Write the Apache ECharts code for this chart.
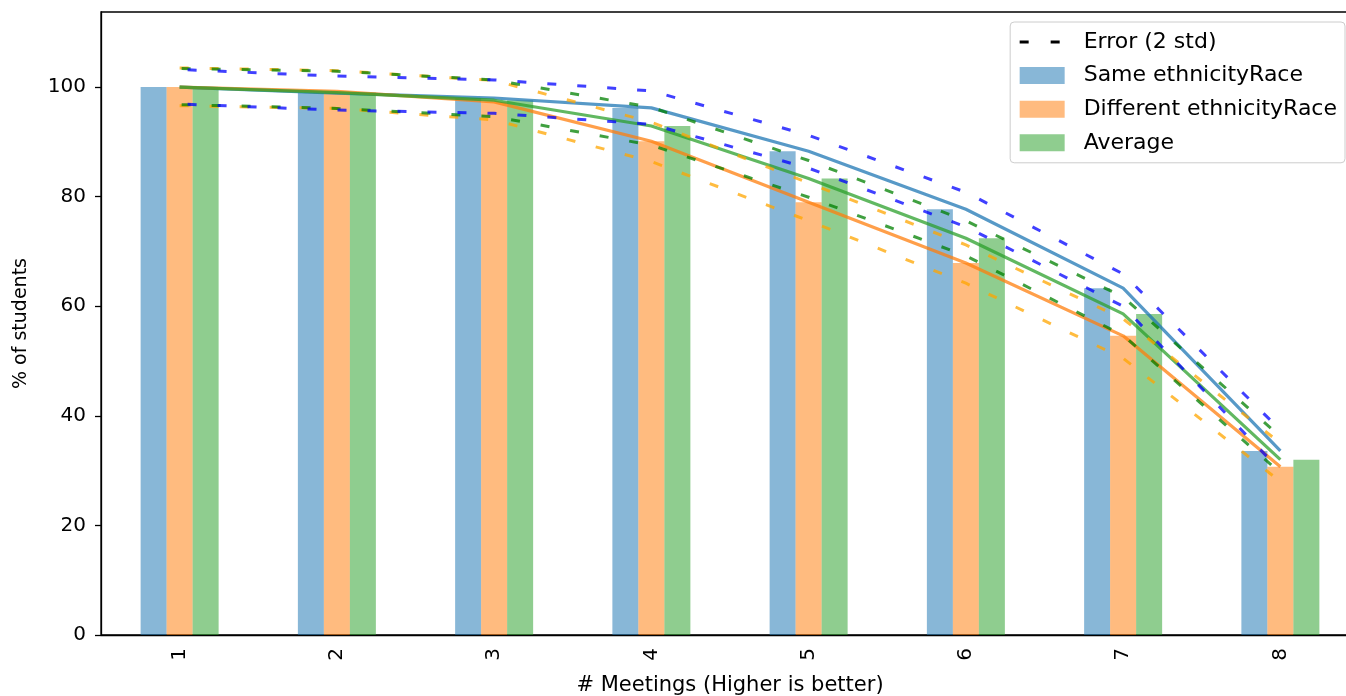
<!DOCTYPE html>
<html>
<head>
<meta charset="utf-8">
<script src="https://cdn.jsdelivr.net/npm/echarts@6/dist/echarts.min.js"></script>
<style>
html,body{margin:0;padding:0;background:#fff;}
#main{width:1346px;height:696px;}
</style>
</head>
<body>
<div id="main"></div>
<script>
// categories
var meetings = ['1','2','3','4','5','6','7','8'];
// % of students still attending
var sameVals = [100, 98.9, 98.0, 96.2, 88.3, 77.7, 63.3, 33.6];
var diffVals = [100, 99.2, 97.3, 90.1, 79.0, 67.9, 54.6, 30.7];
var avgVals  = [100, 99.0, 97.6, 92.9, 83.3, 72.4, 58.6, 32.0];
// error bands (2 std)
var sameHi = [103.2, 102.0, 101.3, 99.3, 91.2, 80.8, 65.9, 37.4];
var sameLo = [96.9, 95.8, 95.2, 93.2, 85.2, 74.5, 60.0, 30.0];
var diffHi = [103.5, 103.0, 101.2, 93.6, 82.5, 71.2, 57.7, 35.0];
var diffLo = [96.6, 96.1, 94.0, 86.4, 75.6, 64.2, 50.5, 28.0];
var avgHi  = [103.4, 102.9, 101.3, 96.3, 86.6, 75.6, 61.7, 36.2];
var avgLo  = [96.8, 96.1, 94.6, 89.4, 79.9, 69.2, 54.7, 29.6];
var yTicks = [0, 20, 40, 60, 80, 100];

var font = 'DejaVu Sans';
var myChart = echarts.init(document.getElementById('main'));

function barSerie(name, data, color){
	return {
		name: name,
		type: 'bar',
		data: data,
		barWidth: 26,
		barGap: '0%',
		itemStyle: {color: color},
		z: 2
	};
}
function lineSerie(name, data, color){
	return {
		name: name,
		type: 'line',
		data: data,
		symbol: 'none',
		lineStyle: {color: color, width: 3.2},
		z: 4,
		silent: true
	};
}
function errSerie(name, data, color, offset){
	return {
		name: name,
		type: 'line',
		data: data,
		symbol: 'none',
		lineStyle: {color: color, width: 3, type: [9, 21], dashOffset: offset},
		z: 5,
		silent: true
	};
}

var legendText = {fontFamily: font, fontSize: 22, color: '#000', lineHeight: 22, padding: [0, 0, 0, 14]};

var option = {
	animation: false,
	textStyle: {fontFamily: font},
	grid: {
		left: 101, top: 12, right: -13, bottom: 61,
		containLabel: false,
		outerBoundsMode: 'none',
		show: true,
		borderColor: '#000',
		borderWidth: 1.3
	},
	legend: {
		right: 1,
		top: 22,
		orient: 'vertical',
		padding: [9, 8, 9, 8],
		itemGap: 11.6,
		itemWidth: 45,
		itemHeight: 17,
		backgroundColor: 'rgba(255,255,255,0.85)',
		borderColor: '#cccccc',
		borderWidth: 1,
		borderRadius: 4,
		textStyle: legendText,
		data: [
			{
				name: 'Error (2 std)',
				lineStyle: {color: '#000', width: 3, type: [9, 22]},
				itemStyle: {color: 'rgba(0,0,0,0)', borderWidth: 0}
			},
			{name: 'Same ethnicityRace', icon: 'rect'},
			{name: 'Different ethnicityRace', icon: 'rect'},
			{name: 'Average', icon: 'rect'}
		]
	},
	xAxis: {
		type: 'category',
		data: meetings,
		boundaryGap: true,
		name: '# Meetings (Higher is better)',
		nameLocation: 'middle',
		nameGap: 40,
		nameTextStyle: {fontFamily: font, fontSize: 21, color: '#000'},
		axisLine: {lineStyle: {color: '#000', width: 1.3}},
		axisTick: {alignWithLabel: true, length: 6, lineStyle: {color: '#000', width: 1.3}},
		axisLabel: {rotate: 90, margin: 13, fontSize: 20, color: '#000', fontFamily: font},
		splitLine: {show: false}
	},
	yAxis: {
		type: 'value',
		min: 0,
		max: 113.7,
		interval: 20,
		name: '% of students',
		nameLocation: 'middle',
		nameGap: 70,
		nameTextStyle: {fontFamily: font, fontSize: 19, color: '#000'},
		axisLine: {show: true, lineStyle: {color: '#000', width: 1.3}},
		axisTick: {show: true, length: 6, lineStyle: {color: '#000', width: 1.3}, customValues: yTicks},
		axisLabel: {fontSize: 20, color: '#000', margin: 15, fontFamily: font, customValues: yTicks},
		splitLine: {show: false}
	},
	series: [
		barSerie('Same ethnicityRace', sameVals, 'rgba(31,119,180,0.53)'),
		barSerie('Different ethnicityRace', diffVals, 'rgba(255,127,14,0.53)'),
		barSerie('Average', avgVals, 'rgba(44,160,44,0.53)'),
		lineSerie('same_line', sameVals, 'rgba(31,119,180,0.75)'),
		lineSerie('diff_line', diffVals, 'rgba(255,127,14,0.75)'),
		lineSerie('avg_line', avgVals, 'rgba(44,160,44,0.75)'),
		errSerie('diff_hi', diffHi, 'rgba(255,165,0,0.75)', 0),
		errSerie('diff_lo', diffLo, 'rgba(255,165,0,0.75)', 0),
		errSerie('avg_hi', avgHi, 'rgba(0,128,0,0.75)', -2),
		errSerie('avg_lo', avgLo, 'rgba(0,128,0,0.75)', -2),
		errSerie('same_hi', sameHi, 'rgba(0,0,255,0.75)', -8),
		errSerie('same_lo', sameLo, 'rgba(0,0,255,0.75)', -8),
		{
			name: 'Error (2 std)',
			type: 'line',
			data: [],
			symbol: 'none',
			itemStyle: {color: '#000'},
			lineStyle: {color: '#000', width: 3, type: [9, 22]}
		}
	]
};
myChart.setOption(option);
</script>
</body>
</html>
